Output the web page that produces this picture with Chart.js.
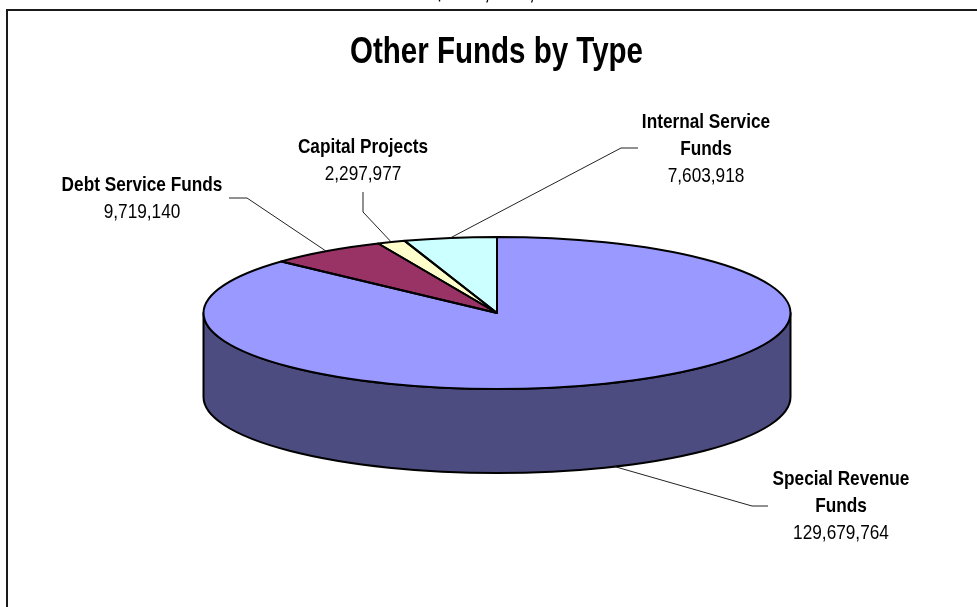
<!DOCTYPE html>
<html>
<head>
<meta charset="utf-8">
<script src="https://cdn.jsdelivr.net/npm/chart.js@4.4.1/dist/chart.umd.min.js"></script>
<style>
  html, body { margin: 0; padding: 0; background: #ffffff; }
  #wrap { width: 977px; height: 607px; }
</style>
</head>
<body>
<div id="wrap"><canvas id="fundsChart" width="977" height="607"></canvas></div>
<script>
// Fund types (multi-line names) and their totals
const categories = [
  ['Special Revenue', 'Funds'],
  ['Debt Service Funds'],
  ['Capital Projects'],
  ['Internal Service', 'Funds']
];
const fundValues = [129679764, 9719140, 2297977, 7603918];
const topColors  = ['#9999FF', '#993366', '#FFFFCC', '#CCFFFF'];
const sideColors = ['#4C4C80', '#4D1A33', '#808066', '#668080'];
const titleText  = 'Other Funds by Type';

const FONT = "'Liberation Sans', Arial, sans-serif";
const NARROW = 0.82;   // horizontal squeeze giving a narrow face

// Tilted-disc geometry of the pie on the page
const disc = { cx: 497, cy: 313, rx: 293.5, ry: 76, depth: 84 };

// Where each callout sits and the elbow of its leader line
const calloutLayout = [
  { x: 841, y: 485, stub: [[768, 506], [752, 506]] },
  { x: 142, y: 191, stub: [[229, 198], [247, 198]] },
  { x: 363, y: 153, stub: [[363, 192], [363, 212]] },
  { x: 706, y: 128, stub: [[638, 148], [621, 148]] }
];

const fmt = v => v.toLocaleString('en-US');
const grandTotal = fundValues.reduce((a, b) => a + b, 0);

function narrowText(ctx, text, x, y, font, align) {
  ctx.save();
  ctx.font = font;
  ctx.textAlign = align || 'center';
  ctx.textBaseline = 'alphabetic';
  ctx.fillStyle = '#000';
  ctx.translate(x, y);
  ctx.scale(NARROW, 1);
  ctx.fillText(text, 0, 0);
  ctx.restore();
}

// parts of an angular range that face the viewer (lower half of the disc)
function frontRanges(s, e) {
  const out = [], TAU = Math.PI * 2;
  for (let k = -2; k <= 2; k++) {
    const a = Math.max(s, k * TAU), b = Math.min(e, k * TAU + Math.PI);
    if (b > a) out.push([a, b]);
  }
  return out;
}

const tiltedPie = {
  id: 'tiltedPie',
  beforeDraw(chart) {
    const ctx = chart.ctx;
    ctx.save();
    // page frame
    ctx.strokeStyle = '#1a1a1a';
    ctx.lineWidth = 2;
    ctx.beginPath();
    ctx.moveTo(7, 640);
    ctx.lineTo(7, 10);
    ctx.lineTo(1000, 10);
    ctx.stroke();
    ctx.restore();
    // running header, mostly above the page edge
    narrowText(ctx, '$' + fmt(grandTotal), 433, -1.5, '28px ' + FONT, 'left');
    // chart title
    narrowText(ctx, titleText, 496.5, 63, 'bold 36px ' + FONT, 'center');
  },
  beforeDatasetsDraw(chart) {
    const ctx = chart.ctx;
    const arcs = chart.getDatasetMeta(0).data;
    const { cx, cy, rx, ry, depth } = disc;
    // wall of the disc
    ctx.save();
    ctx.lineWidth = 2;
    ctx.strokeStyle = '#000';
    ctx.lineJoin = 'round';
    arcs.forEach((arc, i) => {
      frontRanges(arc.startAngle, arc.endAngle).forEach(([a, b]) => {
        ctx.beginPath();
        ctx.ellipse(cx, cy, rx, ry, 0, a, b, false);
        ctx.lineTo(cx + rx * Math.cos(b), cy + ry * Math.sin(b) + depth);
        ctx.ellipse(cx, cy + depth, rx, ry, 0, b, a, true);
        ctx.closePath();
        ctx.fillStyle = sideColors[i];
        ctx.fill();
        ctx.stroke();
      });
    });
    ctx.restore();
    // flatten the face of the pie onto the disc
    const a0 = arcs[0];
    ctx.save();
    ctx.translate(cx, cy);
    ctx.scale(rx / a0.outerRadius, ry / a0.outerRadius);
    ctx.translate(-a0.x, -a0.y);
  },
  afterDatasetsDraw(chart) {
    const ctx = chart.ctx;
    ctx.restore();
    const arcs = chart.getDatasetMeta(0).data;
    const { cx, cy, rx, ry, depth } = disc;
    // slice outlines on the face
    ctx.save();
    ctx.lineWidth = 2;
    ctx.strokeStyle = '#000';
    ctx.lineJoin = 'round';
    arcs.forEach(arc => {
      ctx.beginPath();
      ctx.moveTo(cx, cy);
      ctx.ellipse(cx, cy, rx, ry, 0, arc.startAngle, arc.endAngle, false);
      ctx.closePath();
      ctx.stroke();
    });
    ctx.restore();
    // callouts
    arcs.forEach((arc, i) => {
      const mid = (arc.startAngle + arc.endAngle) / 2;
      const sin = Math.sin(mid);
      const ax = cx + rx * Math.cos(mid);
      const ay = cy + ry * sin + (sin > 0 ? depth : 0);
      const lay = calloutLayout[i];
      ctx.save();
      ctx.beginPath();
      ctx.moveTo(lay.stub[0][0], lay.stub[0][1]);
      ctx.lineTo(lay.stub[1][0], lay.stub[1][1]);
      ctx.lineTo(ax, ay);
      ctx.lineWidth = 1;
      ctx.strokeStyle = '#222';
      ctx.stroke();
      ctx.restore();

      const lines = chart.data.labels[i];
      lines.forEach((ln, k) => narrowText(ctx, ln, lay.x, lay.y + k * 27, 'bold 21px ' + FONT));
      narrowText(ctx, fmt(chart.data.datasets[0].data[i]), lay.x, lay.y + lines.length * 27, '21px ' + FONT);
    });
  }
};

new Chart(document.getElementById('fundsChart'), {
  type: 'pie',
  data: {
    labels: categories,
    datasets: [{
      data: fundValues,
      backgroundColor: topColors,
      borderWidth: 0
    }]
  },
  options: {
    responsive: false,
    animation: false,
    events: [],
    layout: { padding: { left: 16, top: 80 } },
    plugins: {
      legend: { display: false },
      tooltip: { enabled: false },
      title: { display: false }
    }
  },
  plugins: [tiltedPie]
});
</script>
</body>
</html>
